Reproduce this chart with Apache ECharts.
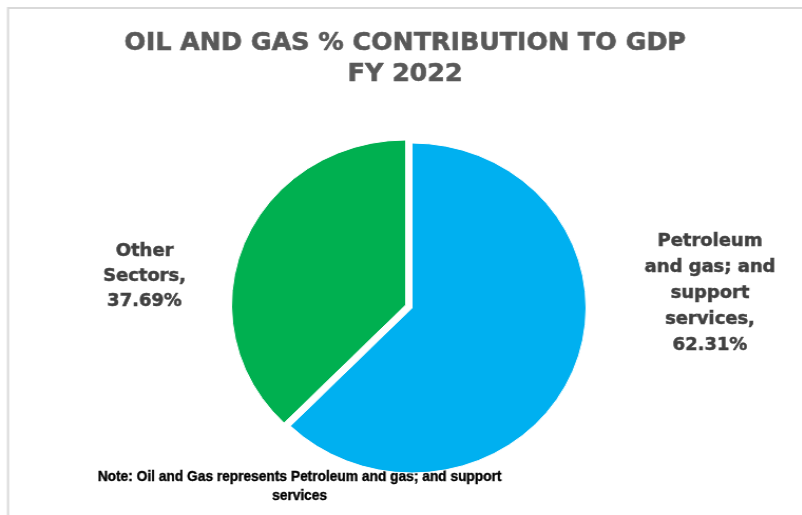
<!DOCTYPE html>
<html>
<head>
<meta charset="utf-8">
<script src="https://cdn.jsdelivr.net/npm/echarts@6/dist/echarts.min.js"></script>
<style>
  html, body { margin: 0; padding: 0; background: #ffffff; overflow: hidden; }
  #wrap { width: 802px; height: 515px; overflow: hidden; position: relative; }
  /* the chart is laid out slightly narrower and then widened, giving the oval pie */
  #chart { width: 760px; height: 515px; transform: scaleX(1.055); transform-origin: 0 0; }
</style>
</head>
<body>
<div id="wrap"><div id="chart"></div></div>
<script>
// Sectors and their share of GDP (%)
const sectors = ['Petroleum and gas; and support services', 'Other Sectors'];
const shares = [62.31, 37.69];
// Wrapped label lines for each sector
const labelLines = [
  ['Petroleum', 'and gas; and', 'support', 'services,'],
  ['Other', 'Sectors,']
];
const sliceColors = ['#00B0F0', '#00B050'];
const titleLines = ['OIL AND GAS % CONTRIBUTION TO GDP', 'FY 2022'];
const noteLines = ['Note: Oil and Gas represents Petroleum and gas; and support', 'services'];

// layout constants (chart pixels)
const pieCenter = [390.5, 308];
const pieRadius = 165;
const explode = [[0, 0], [-6, -3]];          // offset of each slice from the centre
const labelAnchors = [[673, 294], [137, 277]];
const labelLineHeights = [26, 25];

const chart = echarts.init(document.getElementById('chart'), null, { renderer: 'canvas' });

// one pie series per slice so that the "Other Sectors" slice can be pulled out;
// the other slice in each series stays invisible
const series = sectors.map((_, k) => ({
  type: 'pie',
  center: [pieCenter[0] + explode[k][0], pieCenter[1] + explode[k][1]],
  radius: [0, pieRadius],
  startAngle: 90,
  clockwise: true,
  silent: true,
  emphasis: { disabled: true },
  labelLine: { show: false },
  label: {
    fontFamily: 'DejaVu Sans',
    fontWeight: 'bold',
    fontSize: 17,
    lineHeight: labelLineHeights[k],
    color: '#404040',
    textBorderColor: '#404040',
    textBorderWidth: 0.5,
    align: 'center',
    verticalAlign: 'middle',
    formatter: p => labelLines[p.dataIndex].join('\n') + '\n' + p.value.toFixed(2) + '%'
  },
  labelLayout: p => ({
    x: labelAnchors[p.dataIndex][0],
    y: labelAnchors[p.dataIndex][1],
    align: 'center',
    verticalAlign: 'middle'
  }),
  data: sectors.map((name, i) => ({
    name: name,
    value: shares[i],
    itemStyle: i === k
      ? { color: sliceColors[i], borderColor: '#ffffff', borderWidth: 1 }
      : { color: 'rgba(0,0,0,0)', borderWidth: 0 },
    label: { show: i === k }
  }))
}));

chart.setOption({
  animation: false,
  backgroundColor: '#ffffff',
  title: {
    text: titleLines.join('\n'),
    left: 379,
    textAlign: 'center',
    top: 23,
    textStyle: {
      fontFamily: 'DejaVu Sans',
      fontWeight: 'bold',
      fontSize: 24,
      lineHeight: 31,
      color: '#595959',
      textBorderColor: '#595959',
      textBorderWidth: 0.6
    }
  },
  graphic: [
    {
      type: 'rect',
      silent: true,
      shape: { x: 7.6, y: 8, width: 800, height: 560 },
      style: { fill: 'none', stroke: '#d9d9d9', lineWidth: 2 }
    },
    {
      type: 'text',
      silent: true,
      x: 284,
      y: 467,
      scaleX: 0.84,
      style: {
        text: noteLines.join('\n'),
        align: 'center',
        verticalAlign: 'top',
        fontFamily: '"Liberation Sans", Arial, sans-serif',
        fontWeight: 'bold',
        fontSize: 15.5,
        lineHeight: 19,
        fill: '#000000',
        stroke: '#000000',
        lineWidth: 0.4
      }
    }
  ],
  series: series
});
</script>
</body>
</html>
